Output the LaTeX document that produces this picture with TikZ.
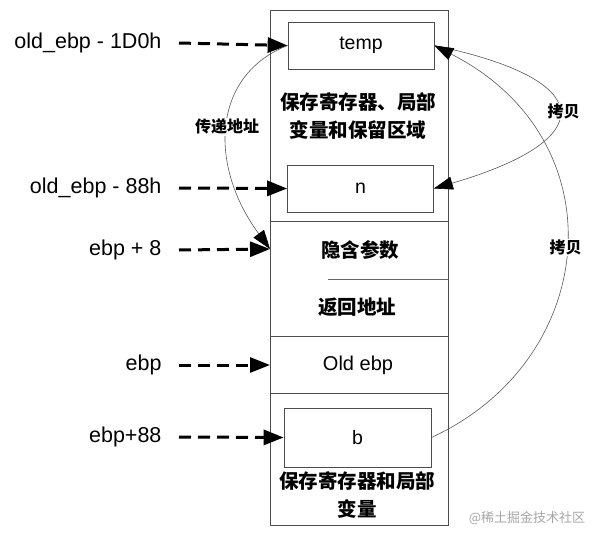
\documentclass[tikz,border=0pt]{standalone}
\usepackage{fontspec}
\setmainfont{Liberation Sans}
\newfontfamily\cjk{Noto Sans CJK SC}
\usetikzlibrary{arrows.meta}

\tikzset{
    slot/.style={draw=black!70, line width=0.7pt, minimum width=146pt, inner sep=0pt},
    addr/.style={anchor=east, font=\fontsize{21.5}{24}\selectfont},
    cell/.style={font=\cjk\bfseries\fontsize{19.5}{28}\selectfont, align=center},
    ptr/.style={line width=3pt, dash pattern=on 12pt off 7pt, -{Triangle[length=20pt,width=15pt]}},
    copy/.style={black!65, line width=0.6pt, -{Triangle[length=19pt,width=13pt,color=black]}},
    tag/.style={fill=white, text=black, inner sep=1pt, font=\cjk\bfseries\fontsize{16}{18}\selectfont}
}

\begin{document}
\begin{tikzpicture}[x=1pt, y=-1pt]
        \useasboundingbox (0,0) rectangle (600,541);

        % Coordinates
        \coordinate (S1) at (270,10);
        \coordinate (S2) at (448,525);
        \coordinate (P8) at (270,249);
        \coordinate (PE) at (270,365);

        % Drawing the stack
        \draw[black!70, line width=0.7pt] (S1) rectangle (S2);
        \draw[black!70, line width=0.7pt] (270,221) -- (448,221);
        \draw[black!60, line width=0.7pt] (328,279) -- (448,279);
        \draw[black!70, line width=0.7pt] (270,336) -- (448,336);
        \draw[black!70, line width=0.7pt] (270,393) -- (448,393);

        % Slots
        \node[slot, minimum height=47pt] (temp) at (361,45.5) {\fontsize{19.5}{22}\selectfont temp};
        \node[slot, minimum height=47pt] (n) at (360.5,188.5) {\fontsize{19.5}{22}\selectfont n};
        \node[slot, minimum width=147pt, minimum height=59pt] (b) at (357.5,437.5) {\fontsize{19.5}{22}\selectfont b};

        % Cell texts
        \node[cell] (regs) at (358,116) {保存寄存器、局部\\变量和保留区域};
        \node[cell] (hidden) at (360,250) {隐含参数};
        \node[cell] (ret) at (357,307) {返回地址};
        \node[font=\fontsize{20}{22}\selectfont] (oldebp) at (358,365) {Old ebp};
        \node[cell] (locals) at (357,495) {保存寄存器和局部\\变量};

        % Labels
        \node[addr] (a1) at (165,43) {old\_ebp - 1D0h};
        \node[addr] (a2) at (165,188) {old\_ebp - 88h};
        \node[addr] (a3) at (165,250) {ebp + 8};
        \node[addr] (a4) at (165,365) {ebp};
        \node[addr] (a5) at (165,437) {ebp+88};

        % Pointers
        \draw[ptr] ([xshift=14pt]a1.east) -- (temp.west);
        \draw[ptr] ([xshift=14pt]a2.east) -- (n.west);
        \draw[ptr] ([xshift=14pt]a3.east) -- (P8);
        \draw[ptr] ([xshift=14pt]a4.east) -- (PE);
        \draw[ptr] ([xshift=14pt]a5.east) -- (b.west);

        % Curved arrows
        \draw[copy] (temp.west) .. controls (212,75) and (208,165) .. (P8)
            node[tag, pos=0.5] (pass) {传递地址};
        \draw[copy] (temp.east) .. controls (600,80) and (600,140) .. (n.east)
            node[tag, pos=0.5, xshift=5pt] (c1) {拷贝};
        \draw[copy] (b.east) .. controls (600,360) and (620,140) .. (temp.east)
            node[tag, pos=0.5] (c2) {拷贝};

        % Watermark
        \node[text=black!35, font=\cjk\fontsize{13}{15}\selectfont] (wm) at (527,518) {@稀土掘金技术社区};
    \end{tikzpicture}
\end{document}
